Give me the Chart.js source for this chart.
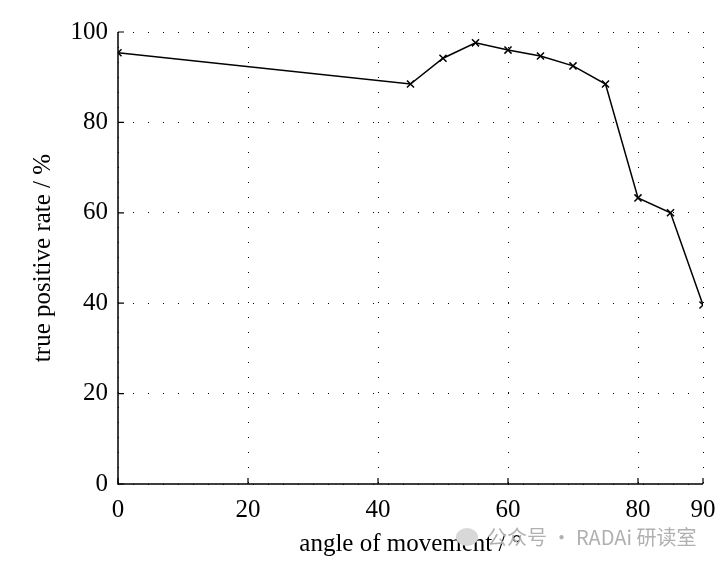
<!DOCTYPE html>
<html lang="en">
<head>
<meta charset="UTF-8">
<title>True positive rate vs angle</title>
<script src="https://cdn.jsdelivr.net/npm/chart.js"></script>
<style>
  body { margin: 0; background: #fff; }
  #wrap { position: relative; width: 718px; height: 568px; }
  #mark { position: absolute; left: 487px; top: 522px; font: 20px "Noto Sans CJK SC", "Noto Sans", sans-serif; color: #b0b0b0; white-space: nowrap; }
  #icon { position: absolute; left: 456px; top: 528px; width: 22px; height: 18px; border-radius: 50%; background: #d8d8d8; }
</style>
</head>
<body>
<div id="wrap">
<canvas id="rateChart" width="718" height="568"></canvas>
<div id="icon"></div>
<div id="mark">公众号 · RADAi 研读室</div>
</div>
<script>
const angles = [0, 45, 50, 55, 60, 65, 70, 75, 80, 85, 90];
const truePositive = [95.4, 88.5, 94.2, 97.6, 96.0, 94.7, 92.5, 88.5, 63.3, 60.0, 39.6];
const xTicks = [0, 20, 40, 60, 80, 90];
const yTicks = [0, 20, 40, 60, 80, 100];

const serif = '"Liberation Serif", "DejaVu Serif", serif';

// solid left/bottom axes plus short inward tick marks (matlab look)
const axesLines = {
    id: 'axesLines',
    afterDraw(chart) {
        const ctx = chart.ctx;
        const x = chart.scales.x, y = chart.scales.y;
        ctx.save();
        ctx.strokeStyle = '#000';
        ctx.lineWidth = 1.5;
        ctx.beginPath();
        ctx.moveTo(x.left, y.top);
        ctx.lineTo(x.left, y.bottom);
        ctx.lineTo(x.right, y.bottom);
        ctx.stroke();
        ctx.lineWidth = 1.2;
        ctx.beginPath();
        xTicks.forEach(v => {
            const px = x.getPixelForValue(v);
            ctx.moveTo(px, y.bottom);
            ctx.lineTo(px, y.bottom - 6);
        });
        yTicks.forEach(v => {
            const py = y.getPixelForValue(v);
            ctx.moveTo(x.left, py);
            ctx.lineTo(x.left + 6, py);
        });
        ctx.stroke();
        ctx.restore();
    }
};

new Chart(document.getElementById('rateChart').getContext('2d'), {
    type: 'line',
    data: {
        datasets: [{
            data: angles.map((a, i) => ({ x: a, y: truePositive[i] })),
            borderColor: '#000',
            borderWidth: 1.5,
            pointStyle: 'crossRot',
            pointRadius: 5,
            pointBorderWidth: 1.5,
            pointBorderColor: '#000',
            fill: false,
            tension: 0
        }]
    },
    options: {
        responsive: false,
        animation: false,
        layout: { padding: { top: 32, right: 15, left: 0, bottom: 0 } },
        plugins: { legend: { display: false }, tooltip: { enabled: false } },
        scales: {
            x: {
                type: 'linear',
                min: 0,
                max: 90,
                afterBuildTicks: s => { s.ticks = xTicks.map(v => ({ value: v })); },
                afterFit: s => { s.height = 84; s.paddingLeft = 0; s.paddingRight = 0; },
                grid: { color: '#000', lineWidth: 1, drawTicks: false },
                border: { display: false, dash: [1, 14] },
                ticks: { color: '#000', padding: 11, maxRotation: 0, font: { family: serif, size: 25 } },
                title: { display: true, text: 'angle of movement / °', color: '#000', padding: { top: 2, bottom: 9 }, font: { family: serif, size: 25 } }
            },
            y: {
                min: 0,
                max: 100,
                afterBuildTicks: s => { s.ticks = yTicks.map(v => ({ value: v })); },
                afterFit: s => { s.width = 118; s.paddingTop = 0; s.paddingBottom = 0; },
                grid: { color: '#000', lineWidth: 1, drawTicks: false },
                border: { display: false, dash: [1, 14] },
                ticks: { color: '#000', padding: 10, font: { family: serif, size: 25 } },
                title: { display: true, text: 'true positive rate / %', color: '#000', padding: { top: 28, bottom: 4 }, font: { family: serif, size: 25 } }
            }
        }
    },
    plugins: [axesLines]
});
</script>
</body>
</html>
